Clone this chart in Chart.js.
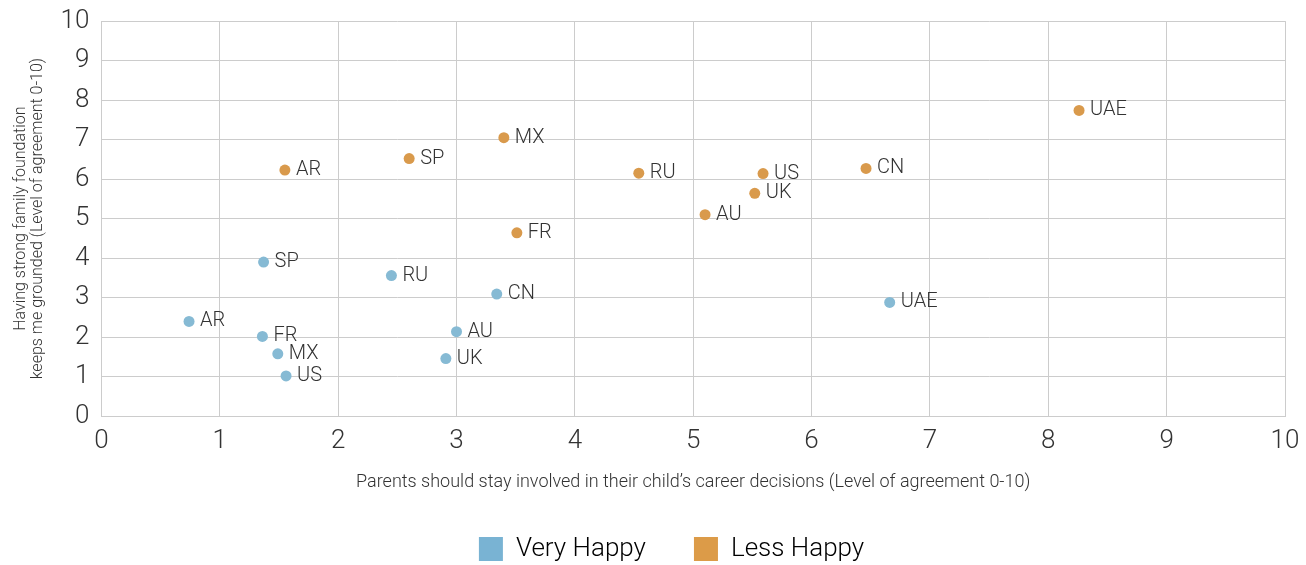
<!DOCTYPE html>
<html>
<head>
<meta charset="utf-8">
<script src="https://cdn.jsdelivr.net/npm/chart.js@4.4.0/dist/chart.umd.min.js"></script>
<style>
  html, body { margin: 0; padding: 0; background: #fff; }
  #wrap { width: 1306px; height: 565px; }
</style>
</head>
<body>
<div id="wrap"><canvas id="myChart" width="1306" height="565"></canvas></div>
<script>
// Very Happy
const veryLabels = ["AR", "SP", "FR", "MX", "US", "RU", "CN", "AU", "UK", "UAE"];
const veryX = [0.74, 1.37, 1.36, 1.49, 1.56, 2.45, 3.34, 3.00, 2.91, 6.66];
const veryY = [2.40, 3.90, 2.02, 1.58, 1.02, 3.56, 3.09, 2.14, 1.46, 2.88];

// Less Happy
const lessLabels = ["AR", "SP", "MX", "FR", "RU", "AU", "UK", "US", "CN", "UAE"];
const lessX = [1.55, 2.60, 3.40, 3.51, 4.54, 5.10, 5.52, 5.59, 6.46, 8.26];
const lessY = [6.23, 6.52, 7.05, 4.64, 6.15, 5.10, 5.64, 6.14, 6.27, 7.74];

const seriesNames = ["Very Happy", "Less Happy"];
const xTitle = "Parents should stay involved in their child\u2019s career decisions (Level of agreement 0-10)";
const yTitle = ["Having strong family foundation", "keeps me grounded (Level of agreement 0-10)"];

const blue = "#86bad4";
const orange = "#d99a4c";
const fontFam = "Roboto, 'DejaVu Sans', sans-serif";

function toPoints(xs, ys) {
    return xs.map((x, i) => ({ x: x, y: ys[i] }));
}

// draws the country code next to each point
const pointLabels = {
    id: "pointLabels",
    afterDatasetsDraw(chart) {
        const c = chart.ctx;
        c.save();
        c.font = "300 20px " + fontFam;
        c.fillStyle = "#333";
        c.textBaseline = "middle";
        chart.data.datasets.forEach((ds, i) => {
            chart.getDatasetMeta(i).data.forEach((pt, j) => {
                c.fillText(ds.labels[j], pt.x + 11, pt.y);
            });
        });
        c.restore();
    }
};

new Chart(document.getElementById("myChart"), {
    type: "scatter",
    data: {
        datasets: [
            {
                label: seriesNames[0],
                labels: veryLabels,
                data: toPoints(veryX, veryY),
                backgroundColor: blue,
                borderColor: blue,
                pointRadius: 5.5,
                pointBorderWidth: 0
            },
            {
                label: seriesNames[1],
                labels: lessLabels,
                data: toPoints(lessX, lessY),
                backgroundColor: orange,
                borderColor: orange,
                pointRadius: 5.5,
                pointBorderWidth: 0
            }
        ]
    },
    options: {
        responsive: false,
        animation: false,
        layout: { padding: { left: 13, right: 21, top: 0, bottom: -7 } },
        plugins: {
            tooltip: { enabled: false },
            legend: {
                position: "bottom",
                fullSize: false,
                labels: {
                    boxWidth: 24,
                    boxHeight: 24,
                    padding: 10,
                    color: "#333",
                    font: { family: fontFam, size: 26, weight: 300 },
                    generateLabels(chart) {
                        // spaces after the labels set the gap and the offset of the legend
                        return chart.data.datasets.map((ds, i) => ({
                            text: i === 0 ? ds.label + "      " : ds.label + "      \u2009",
                            fillStyle: i === 0 ? "#79b3d3" : "#dc9b48",
                            strokeStyle: "rgba(0,0,0,0)",
                            lineWidth: 0,
                            datasetIndex: i
                        }));
                    }
                }
            }
        },
        scales: {
            x: {
                min: 0,
                max: 10,
                afterFit(scale) {
                    // the last tick label may hang past the plot edge
                    scale.paddingRight = 12;
                },
                ticks: {
                    stepSize: 1,
                    padding: 10,
                    color: "#333",
                    font: { family: fontFam, size: 26, weight: 300 }
                },
                grid: { color: "#cccccc", drawTicks: false },
                border: { color: "#cccccc" },
                title: {
                    display: true,
                    text: xTitle,
                    color: "#333",
                    font: { family: fontFam, size: 18, weight: 300 },
                    padding: { top: 4, bottom: 33 }
                }
            },
            y: {
                min: 0,
                max: 10,
                ticks: {
                    stepSize: 1,
                    padding: 12,
                    color: "#333",
                    font: { family: fontFam, size: 26, weight: 300, lineHeight: 0.7 }
                },
                grid: { color: "#cccccc", drawTicks: false },
                border: { color: "#cccccc" },
                title: {
                    display: true,
                    text: yTitle,
                    color: "#333",
                    font: { family: fontFam, size: 16, weight: 300, lineHeight: 1.05 },
                    padding: { top: 0, bottom: 2 }
                }
            }
        }
    },
    plugins: [pointLabels]
});
</script>
</body>
</html>
